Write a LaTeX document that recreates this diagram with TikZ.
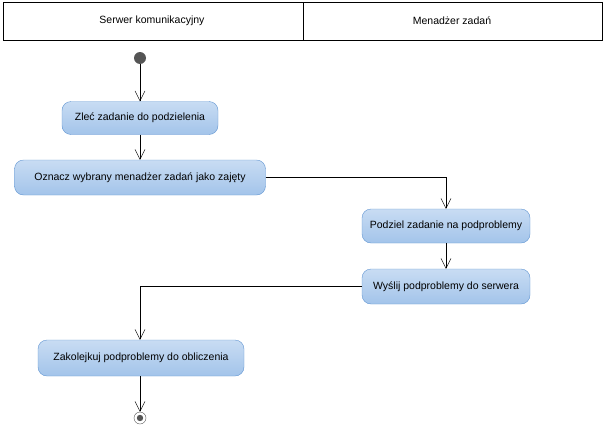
\documentclass[tikz,border=0pt]{standalone}
\usepackage{fontspec}
\setmainfont{Liberation Sans}
\usetikzlibrary{arrows.meta}
\definecolor{boxtop}{RGB}{200, 220, 243}
\definecolor{boxbot}{RGB}{163, 196, 234}
\definecolor{boxline}{RGB}{98, 150, 210}
\definecolor{dot}{RGB}{85, 85, 85}

\tikzset{
  act/.style={rectangle, rounded corners=9pt, draw=boxline, top color=boxtop, bottom color=boxbot,
    font=\fontsize{10.5}{12}\selectfont, inner sep=0pt, minimum height=33pt},
  flow/.style={-{Straight Barb[length=10pt,width=10pt]}, black},
  lane/.style={font=\fontsize{10.5}{12}\selectfont}
}

\begin{document}
\begin{tikzpicture}[x=1pt,y=-1pt]
  \useasboundingbox (0,0) rectangle (605,434);
  \draw[black] (3,2) rectangle (602,40);
  \draw[black] (303,2) -- (303,40);
  \node[lane] (lane1) at (152,21) {Serwer komunikacyjny};
  \node[lane] (lane2) at (452,21) {Menadżer zadań};

  \node[circle, fill=dot, minimum size=12pt, inner sep=0pt] (start) at (140,58) {};
  \node[act, minimum width=156pt] (zlec) at (140,118) {Zleć zadanie do podzielenia};
  \node[act, minimum width=251pt, minimum height=35pt] (oznacz) at (140,177.5) {Oznacz wybrany menadżer zadań jako zajęty};
  \node[act, minimum width=168pt, minimum height=34pt] (podziel) at (446,226) {Podziel zadanie na podproblemy};
  \node[act, minimum width=168pt, minimum height=35pt] (wyslij) at (446,286.5) {Wyślij podproblemy do serwera};
  \node[act, minimum width=206pt, minimum height=36pt] (zakol) at (141,358) {Zakolejkuj podproblemy do obliczenia};
  \node[circle, draw=dot, fill=white, minimum size=12pt, inner sep=0pt] (stop) at (140,418) {};
  \fill[dot] (stop) circle (3.2pt);

  \draw[flow] (start) -- (zlec);
  \draw[flow] (zlec) -- (oznacz);
  \draw[flow] (oznacz.east) -| (podziel.north);
  \draw[flow] (podziel) -- (wyslij);
  \draw[flow] (wyslij.west) -| (zakol.north -| start);
  \draw[flow] (zakol.south -| start) -- (stop);
\end{tikzpicture}
\end{document}
